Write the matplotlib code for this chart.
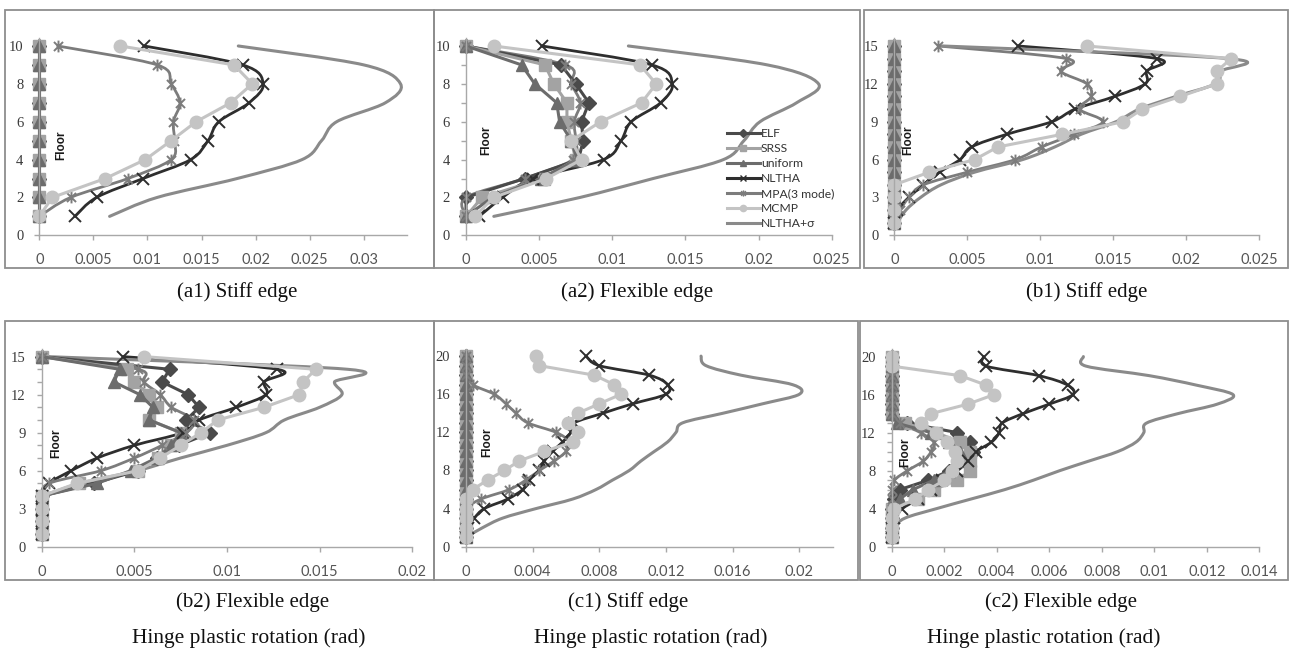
import matplotlib

matplotlib.use("Agg")
import matplotlib.pyplot as plt
import numpy as np
from matplotlib.lines import Line2D
from matplotlib.patches import PathPatch, Rectangle
from matplotlib.path import Path
from matplotlib.ticker import FuncFormatter, MultipleLocator

W, H = 1294, 650

SERIES = ["ELF", "SRSS", "uniform", "NLTHA", "MPA(3 mode)", "MCMP", "NLTHA+σ"]

FLOORS_10 = [1, 2, 3, 4, 5, 6, 7, 8, 9, 10]
FLOORS_15 = [1, 2, 3, 4, 5, 6, 7, 8, 9, 10, 11, 12, 13, 14, 15]
FLOORS_20 = [1, 2, 3, 4, 5, 6, 7, 8, 9, 10, 11, 12, 13, 14, 15, 16, 17, 18, 19, 20]

# (a1) 10-storey, stiff edge
a1_elf = [0, 0, 0, 0, 0, 0, 0, 0, 0, 0]
a1_srss = [0, 0, 0, 0, 0, 0, 0, 0, 0, 0]
a1_uniform = [0, 0, 0, 0, 0, 0, 0, 0, 0, 0]
a1_nltha = [0.0033, 0.0053, 0.0096, 0.0140, 0.0156, 0.0166, 0.0194, 0.0207, 0.0188, 0.0097]
a1_mpa = [0.0, 0.0029, 0.0082, 0.0122, 0.0125, 0.0124, 0.0130, 0.0122, 0.0109, 0.0017]
a1_mcmp = [0.0, 0.0012, 0.0061, 0.0098, 0.0122, 0.0145, 0.0177, 0.0197, 0.0180, 0.0075]
a1_sigma = [0.0065, 0.0109, 0.0183, 0.0243, 0.0261, 0.0275, 0.0320, 0.0334, 0.0300, 0.0184]

# (a2) 10-storey, flexible edge
a2_elf = [0, 0, 0.0040, 0.0077, 0.0080, 0.0079, 0.0084, 0.0075, 0.0065, 0]
a2_srss = [0, 0.0011, 0.0053, 0.0075, 0.0072, 0.0069, 0.0069, 0.0060, 0.0054, 0]
a2_uniform = [0, 0.0018, 0.0051, 0.0076, 0.0072, 0.0064, 0.0062, 0.0047, 0.0038, 0]
a2_nltha = [0.0009, 0.0025, 0.0046, 0.0094, 0.0106, 0.0113, 0.0133, 0.0141, 0.0127, 0.0052]
a2_mpa = [0.0, 0.0, 0.0040, 0.0073, 0.0075, 0.0074, 0.0078, 0.0072, 0.0068, 0]
a2_mcmp = [0.0006, 0.0019, 0.0055, 0.0079, 0.0072, 0.0092, 0.0120, 0.0130, 0.0119, 0.0019]
a2_sigma = [0.0019, 0.0078, 0.0128, 0.0176, 0.0190, 0.0201, 0.0226, 0.0241, 0.0206, 0.0111]

# (b1) 15-storey, stiff edge
b1_elf = [0, 0, 0, 0, 0, 0, 0, 0, 0, 0, 0, 0, 0, 0, 0]
b1_srss = [0, 0, 0, 0, 0, 0, 0, 0, 0, 0, 0, 0, 0, 0, 0]
b1_uniform = [0, 0, 0, 0, 0, 0, 0, 0, 0, 0, 0, 0, 0, 0, 0]
b1_nltha = [0, 0.0002, 0.0010, 0.0020, 0.0031, 0.0045, 0.0053, 0.0077, 0.0108, 0.0124,
            0.0151, 0.0172, 0.0173, 0.0180, 0.0085]
b1_mpa = [0.0, 0.0004, 0.0010, 0.0020, 0.0050, 0.0083, 0.0101, 0.0123, 0.0143, 0.0127,
          0.0135, 0.0132, 0.0114, 0.0118, 0.0030]
b1_mcmp = [0, 0, 0, 0, 0.0024, 0.0055, 0.0071, 0.0115, 0.0157, 0.0170,
           0.0196, 0.0221, 0.0221, 0.0231, 0.0132]
b1_sigma = [0.0002, 0.0008, 0.0018, 0.0032, 0.0055, 0.0088, 0.0110, 0.0128, 0.0152, 0.0168,
            0.0193, 0.0220, 0.0224, 0.0229, 0.0033]

# (b2) 15-storey, flexible edge
b2_elf = [0, 0, 0, 0, 0.0028, 0.0052, 0.0062, 0.0074, 0.0091, 0.0078,
          0.0085, 0.0079, 0.0065, 0.0069, 0]
b2_srss = [0, 0, 0, 0, 0.0020, 0.0052, 0.0063, 0.0070, 0.0075, 0.0058,
           0.0062, 0.0058, 0.0050, 0.0046, 0]
b2_uniform = [0, 0, 0, 0, 0.0030, 0.0048, 0.0062, 0.0070, 0.0075, 0.0058,
              0.0060, 0.0053, 0.0039, 0.0042, 0]
b2_nltha = [0, 0, 0, 0, 0.0004, 0.0016, 0.0030, 0.0050, 0.0076, 0.0085,
            0.0105, 0.0121, 0.0120, 0.0127, 0.0044]
b2_mpa = [0, 0, 0, 0, 0.0004, 0.0032, 0.0050, 0.0065, 0.0078, 0.0082,
          0.0070, 0.0064, 0.0055, 0.0052, 0]
b2_mcmp = [0, 0, 0, 0, 0.0019, 0.0052, 0.0064, 0.0075, 0.0086, 0.0095,
           0.0120, 0.0139, 0.0141, 0.0148, 0.0055]
b2_sigma = [0, 0, 0, 0.0002, 0.0025, 0.0052, 0.0075, 0.0100, 0.0121, 0.0131,
            0.0150, 0.0162, 0.0158, 0.0165, 0.0003]

# (c1) 20-storey, stiff edge
c1_elf = [0, 0, 0, 0, 0, 0, 0, 0, 0, 0, 0, 0, 0, 0, 0, 0, 0, 0, 0, 0]
c1_srss = [0, 0, 0, 0, 0, 0, 0, 0, 0, 0, 0, 0, 0, 0, 0, 0, 0, 0, 0, 0]
c1_uniform = [0, 0, 0, 0, 0, 0, 0, 0, 0, 0, 0, 0, 0, 0, 0, 0, 0, 0, 0, 0]
c1_nltha = [0, 0.0001, 0.0005, 0.0011, 0.0025, 0.0034, 0.0038, 0.0044, 0.0047, 0.0052,
            0.0058, 0.0063, 0.0065, 0.0082, 0.0100, 0.0120, 0.0121, 0.0110, 0.0080, 0.0072]
c1_mpa = [0, 0, 0, 0, 0.0009, 0.0026, 0.0036, 0.0044, 0.0053, 0.0060,
          0.0062, 0.0054, 0.0037, 0.0030, 0.0024, 0.0017, 0.0004, 0, 0, 0]
c1_mcmp = [0, 0, 0, 0, 0, 0.0004, 0.0013, 0.0023, 0.0032, 0.0047,
           0.0064, 0.0067, 0.0061, 0.0067, 0.0080, 0.0093, 0.0089, 0.0077, 0.0044, 0.0042]
c1_sigma = [0, 0.0010, 0.0022, 0.0042, 0.0064, 0.0078, 0.0088, 0.0098, 0.0105, 0.0113,
            0.0121, 0.0126, 0.0130, 0.0154, 0.0178, 0.0200, 0.0196, 0.0165, 0.0144, 0.0141]

# (c2) 20-storey, flexible edge
c2_elf = [0, 0, 0, 0, 0.0001, 0.0003, 0.0014, 0.0022, 0.0028, 0.0031,
          0.0030, 0.0025, 0.0006, 0, 0, 0, 0, 0, 0, 0]
c2_srss = [0, 0, 0, 0, 0.0010, 0.0016, 0.0025, 0.0030, 0.0030, 0.0030,
           0.0026, 0.0017, 0.0005, 0, 0, 0, 0, 0, 0, 0]
c2_uniform = [0, 0, 0, 0, 0.0003, 0.0008, 0.0016, 0.0022, 0.0025, 0.0026,
              0.0022, 0.0015, 0.0002, 0, 0, 0, 0, 0, 0, 0]
c2_nltha = [0, 0, 0.0001, 0.0004, 0.0010, 0.0015, 0.0019, 0.0025, 0.0029, 0.0032,
            0.0038, 0.0041, 0.0042, 0.0050, 0.0060, 0.0069, 0.0067, 0.0056, 0.0036, 0.0035]
c2_mpa = [0, 0, 0, 0, 0, 0, 0.0001, 0.0006, 0.0012, 0.0015,
          0.0016, 0.0011, 0.0003, 0, 0, 0, 0, 0, 0, 0]
c2_mcmp = [0, 0, 0, 0.0001, 0.0009, 0.0014, 0.0020, 0.0023, 0.0025, 0.0024,
           0.0021, 0.0017, 0.0011, 0.0015, 0.0029, 0.0039, 0.0036, 0.0026, 0, 0]
c2_sigma = [0, 0.0001, 0.0005, 0.0017, 0.0030, 0.0043, 0.0054, 0.0064, 0.0075, 0.0086,
            0.0093, 0.0096, 0.0097, 0.0109, 0.0124, 0.0130, 0.0116, 0.0098, 0.0074, 0.0073]

CAPTIONS = ["(a1) Stiff edge", "(a2) Flexible edge", "(b1) Stiff edge",
            "(b2) Flexible edge", "(c1) Stiff edge", "(c2) Flexible edge"]
XLABEL = "Hinge plastic rotation (rad)"

# excel-like "star" marker: an x with a vertical bar through it
STAR = Path([(-1, -1), (1, 1), (-1, 1), (1, -1), (0, -1.3), (0, 1.3)],
            [Path.MOVETO, Path.LINETO, Path.MOVETO, Path.LINETO, Path.MOVETO, Path.LINETO])

STYLE = {
    "ELF": dict(color="#4a4a4a", marker="D", ms=7, lw=2.2, smooth=False),
    "SRSS": dict(color="#a3a3a3", marker="s", ms=8.5, lw=2.2, smooth=False),
    "uniform": dict(color="#6c6c6c", marker="^", ms=9, lw=2.2, smooth=False),
    "NLTHA": dict(color="#2e2e2e", marker="x", ms=8.5, lw=2.0, smooth=True),
    "MPA(3 mode)": dict(color="#7c7c7c", marker=STAR, ms=8.5, lw=2.0, smooth=True),
    "MCMP": dict(color="#c4c4c4", marker="o", ms=9, lw=2.2, smooth=False),
    "NLTHA+σ": dict(color="#8a8a8a", marker=None, ms=0, lw=2.2, smooth=True),
}

# axes boxes in pixels: left, right, bottom, top ; limits ; tick steps
LAYOUT = [
    dict(box=(39.3, 407.0, 235.3, 38.4), xmax=0.034, ymax=10.4, xstep=0.005, ystep=2),
    dict(box=(466.0, 831.7, 235.3, 38.4), xmax=0.025, ymax=10.4, xstep=0.005, ystep=2),
    dict(box=(894.3, 1259.0, 235.3, 38.4), xmax=0.025, ymax=15.6, xstep=0.005, ystep=3),
    dict(box=(41.7, 412.3, 546.7, 349.0), xmax=0.020, ymax=15.6, xstep=0.005, ystep=3),
    dict(box=(466.0, 832.7, 546.7, 348.5), xmax=0.022, ymax=20.8, xstep=0.004, ystep=4),
    dict(box=(891.7, 1259.3, 546.7, 349.0), xmax=0.014, ymax=20.8, xstep=0.002, ystep=4),
]
BORDERS = [(5, 434, 10, 268), (434, 860, 10, 268), (864, 1288, 10, 268),
           (5, 434, 321, 580), (434, 858, 321, 580), (860, 1288, 321, 580)]
FLOOR_POS = [(61.7, 145), (486.7, 140), (908.3, 140), (56.7, 443), (487.3, 442), (905, 452)]
CAPTION_POS = [(237, 292), (637, 292), (1087, 292), (253, 602), (628, 602), (1061, 602)]
XLABEL_POS = [(249, 638), (651, 638), (1044, 638)]

PANELS = [
    (FLOORS_10, [a1_elf, a1_srss, a1_uniform, a1_nltha, a1_mpa, a1_mcmp, a1_sigma]),
    (FLOORS_10, [a2_elf, a2_srss, a2_uniform, a2_nltha, a2_mpa, a2_mcmp, a2_sigma]),
    (FLOORS_15, [b1_elf, b1_srss, b1_uniform, b1_nltha, b1_mpa, b1_mcmp, b1_sigma]),
    (FLOORS_15, [b2_elf, b2_srss, b2_uniform, b2_nltha, b2_mpa, b2_mcmp, b2_sigma]),
    (FLOORS_20, [c1_elf, c1_srss, c1_uniform, c1_nltha, c1_mpa, c1_mcmp, c1_sigma]),
    (FLOORS_20, [c2_elf, c2_srss, c2_uniform, c2_nltha, c2_mpa, c2_mcmp, c2_sigma]),
]

SANS = ["Lato", "DejaVu Sans"]
SERIF = ["Liberation Serif", "DejaVu Serif"]


def fx(px):
    return px / W


def fy(py):
    return 1 - py / H


def smooth_path(xs, ys):
    # catmull-rom through the points, written as cubic beziers (like excel's smoothed line)
    pts = np.column_stack([xs, ys]).astype(float)
    verts = [pts[0]]
    codes = [Path.MOVETO]
    n = len(pts)
    for i in range(n - 1):
        p0 = pts[i - 1] if i > 0 else pts[i]
        p1, p2 = pts[i], pts[i + 1]
        p3 = pts[i + 2] if i + 2 < n else pts[i + 1]
        verts += [p1 + (p2 - p0) / 6.0, p2 - (p3 - p1) / 6.0, p2]
        codes += [Path.CURVE4] * 3
    return Path(verts, codes)


def draw_series(ax, floors, values, name):
    st = STYLE[name]
    if st["smooth"]:
        ax.add_patch(PathPatch(smooth_path(values, floors), fill=False, edgecolor=st["color"],
                               lw=st["lw"], clip_on=False, capstyle="round", joinstyle="round"))
        if st["marker"] is not None:
            ax.plot(values, floors, ls="none", marker=st["marker"], ms=st["ms"],
                    mec=st["color"], mfc=st["color"], mew=1.4, clip_on=False)
    else:
        ax.plot(values, floors, "-", color=st["color"], lw=st["lw"], marker=st["marker"],
                ms=st["ms"], mec=st["color"], mfc=st["color"], clip_on=False)


def style_axes(ax, lay):
    ax.set_xlim(0, lay["xmax"])
    ax.set_ylim(0, lay["ymax"])
    for side in ("top", "right"):
        ax.spines[side].set_visible(False)
    for side in ("left", "bottom"):
        ax.spines[side].set_color("#a8a8a8")
        ax.spines[side].set_linewidth(1.0)
    ax.set_xticks(np.arange(0, lay["xmax"] + 1e-9, lay["xstep"]))
    ax.xaxis.set_major_formatter(FuncFormatter(lambda v, p: "0" if abs(v) < 1e-12 else f"{v:g}"))
    ax.yaxis.set_major_locator(MultipleLocator(lay["ystep"]))
    ax.yaxis.set_minor_locator(MultipleLocator(1))
    ax.tick_params(axis="both", which="both", direction="out", color="#a8a8a8", length=3.5, width=1)
    ax.tick_params(axis="x", pad=9.5, labelsize=10.5, labelcolor="#555555")
    ax.tick_params(axis="y", pad=8, labelsize=10.5, labelcolor="#3a3a3a")
    for lab in ax.get_xticklabels():
        lab.set_family(SANS)
    for lab in ax.get_yticklabels():
        lab.set_family(SERIF)
    ax.patch.set_alpha(0)


fig = plt.figure(figsize=(W / 100, H / 100), dpi=100)

for (x0, x1, y0, y1) in BORDERS:
    fig.add_artist(Rectangle((fx(x0), fy(y1)), fx(x1 - x0), (y1 - y0) / H, fill=False,
                             edgecolor="#8e8e8e", lw=1.3, transform=fig.transFigure))

axes = []
for lay, (floors, data) in zip(LAYOUT, PANELS):
    left, right, bottom, top = lay["box"]
    ax = fig.add_axes([fx(left), fy(bottom), (right - left) / W, (bottom - top) / H])
    style_axes(ax, lay)
    for name, values in zip(SERIES, data):
        draw_series(ax, floors, values, name)
    axes.append(ax)

for (px, py) in FLOOR_POS:
    fig.text(fx(px), fy(py), "Floor", rotation=90, ha="center", va="center",
             fontsize=8.5, fontweight="bold", family=["Liberation Sans", "DejaVu Sans"], color="#1a1a1a")

for text, (px, py) in zip(CAPTIONS, CAPTION_POS):
    fig.text(fx(px), fy(py), text, ha="center", va="center", fontsize=15, family=SERIF, color="#111111")

for (px, py) in XLABEL_POS:
    fig.text(fx(px), fy(py), XLABEL, ha="center", va="center", fontsize=15.5, family=SERIF, color="#111111")

handles = []
for name in SERIES:
    st = STYLE[name]
    handles.append(Line2D([0], [0], color=st["color"], lw=2.2, marker=st["marker"], ms=4.5,
                          mec=st["color"], mfc=st["color"], mew=1.0))
leg = fig.legend(handles, SERIES, loc="upper left", bbox_to_anchor=(fx(727), fy(128)),
                 frameon=False, handlelength=2.7, handletextpad=0.1,
                 labelspacing=0.33, borderpad=0, borderaxespad=0, prop={"family": SANS, "size": 8.7})
for t in leg.get_texts():
    t.set_color("#333333")

fig.savefig("out.png", dpi=100)
